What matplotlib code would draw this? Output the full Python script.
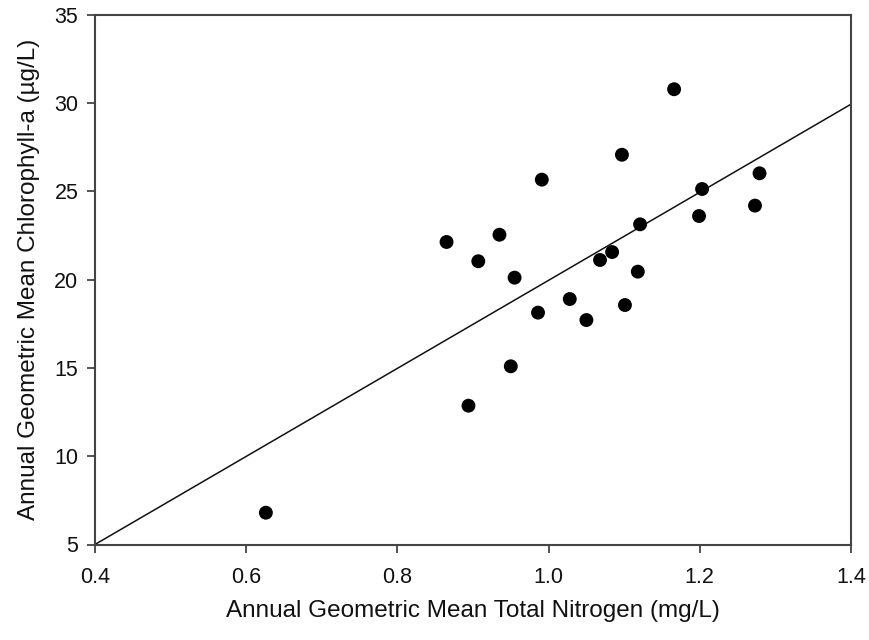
import matplotlib
matplotlib.use("Agg")
import matplotlib.pyplot as plt
import numpy as np

plt.rcParams['font.family'] = ['Liberation Sans', 'DejaVu Sans']

# Data
total_nitrogen = [1.166, 1.097, 0.991, 1.203, 1.199, 1.121, 0.865, 0.935, 0.907, 1.084, 1.068,
                  0.955, 1.118, 1.028, 0.986, 1.101, 1.050, 0.950, 0.894, 1.279, 1.273, 0.626]
chlorophyll_a = [30.78, 27.07, 25.66, 25.13, 23.60, 23.13, 22.13, 22.54, 21.04, 21.56, 21.11,
                 20.11, 20.45, 18.90, 18.13, 18.56, 17.71, 15.09, 12.86, 26.02, 24.19, 6.80]

# Fitted line
fit_slope = 24.93
fit_intercept = -4.97
fit_x = [0.4, 1.4]

x_ticks = [0.4, 0.6, 0.8, 1.0, 1.2, 1.4]
x_tick_labels = ['0.4', '0.6', '0.8', '1.0', '1.2', '1.4']
y_ticks = [5, 10, 15, 20, 25, 30, 35]

fig = plt.figure(figsize=(8.69, 6.40), dpi=100)
ax = fig.add_axes([95/869, (640-544.5)/640, (851-95)/869, (544.5-14.7)/640])

fx = np.array(fit_x)
ax.plot(fx, fit_slope*fx + fit_intercept, color='#111111', lw=1.1, zorder=2)
ax.scatter(total_nitrogen, chlorophyll_a, s=100, color='black', edgecolors='none', zorder=3)

ax.set_xlim(0.4, 1.4)
ax.set_ylim(5, 35)
ax.set_xticks(x_ticks)
ax.set_xticklabels(x_tick_labels)
ax.set_yticks(y_ticks)

for sp in ax.spines.values():
    sp.set_color('#444444')
    sp.set_linewidth(1.5)
ax.tick_params(direction='out', length=6, width=1.3, color='#444444', labelsize=15.5, labelcolor='#111111')
ax.tick_params(axis='x', pad=10)
ax.tick_params(axis='y', pad=6)

ax.set_xlabel('Annual Geometric Mean Total Nitrogen (mg/L)', fontsize=17.5, labelpad=9, color='#111111')
ax.set_ylabel('Annual Geometric Mean Chlorophyll-a (\u00b5g/L)', fontsize=17.5, labelpad=10, color='#111111')

fig.savefig('out.png', dpi=100)
